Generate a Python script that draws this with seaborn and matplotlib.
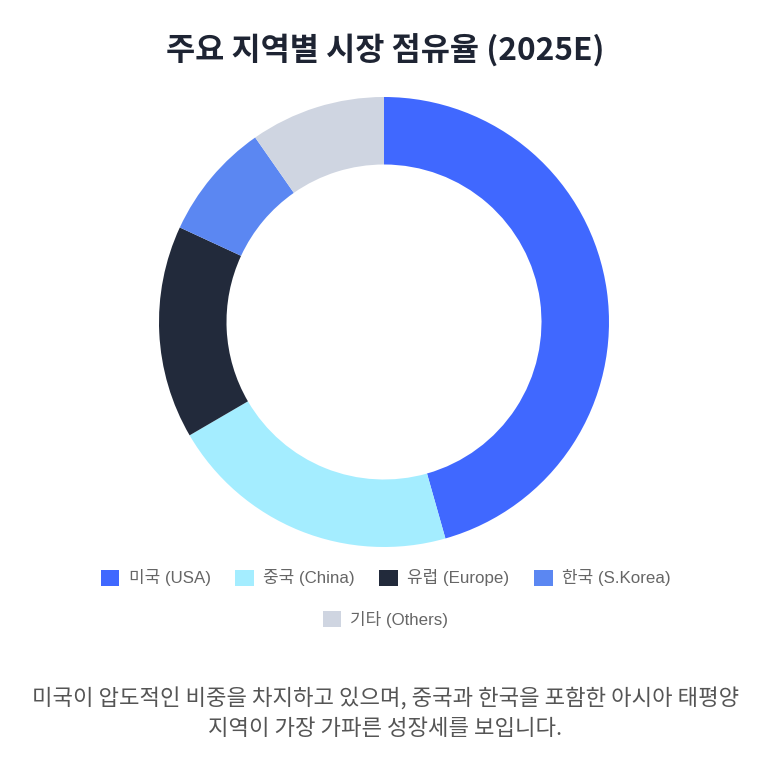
import matplotlib
matplotlib.use("Agg")
import matplotlib.pyplot as plt
import seaborn as sns

# ---- data ----
regions = ["미국 (USA)", "중국 (China)", "유럽 (Europe)", "한국 (S.Korea)", "기타 (Others)"]
shares = [45.6, 21.0, 15.3, 8.4, 9.7]
colors = ["#4068FF", "#A4EDFF", "#222A3B", "#5B87F2", "#CFD5E1"]
title = "주요 지역별 시장 점유율 (2025E)"
caption = "미국이 압도적인 비중을 차지하고 있으며, 중국과 한국을 포함한 아시아 태평양\n지역이 가장 가파른 성장세를 보입니다."

sns.set_theme(style="white")
plt.rcParams["font.family"] = ["Noto Sans CJK KR", "DejaVu Sans"]

W, H = 771, 759
fig = plt.figure(figsize=(W / 100, H / 100), dpi=100)
fig.patch.set_facecolor("white")

cx, cy, r = 384, 322, 225
ax = fig.add_axes([(cx - r) / W, (H - cy - r) / H, 2 * r / W, 2 * r / H])
palette = sns.color_palette(colors)
wedges, _ = ax.pie(shares, colors=palette, startangle=90, counterclock=False,
                   radius=1.0, wedgeprops=dict(width=0.30, linewidth=0))
ax.set_xlim(-1, 1)
ax.set_ylim(-1, 1)
ax.set_aspect("equal")
ax.axis("off")

fig.text(0.5, 1 - 51 / H, title, ha="center", va="center", fontsize=22.8,
         fontweight="bold", color="#1E2433")

lfam = ["Liberation Sans", "Noto Sans CJK KR"]
common = dict(frameon=False, handlelength=1.1, handleheight=1.1,
              handletextpad=0.55, columnspacing=1.45, borderpad=0, borderaxespad=0,
              prop=dict(family=lfam, size=12.2), labelcolor="#666666", loc="center")
leg1 = fig.legend(wedges[:4], regions[:4], ncol=4,
                  bbox_to_anchor=(0.5, 1 - 578 / H), **common)
leg2 = fig.legend(wedges[4:], regions[4:], ncol=1,
                  bbox_to_anchor=(0.5, 1 - 619 / H), **common)

fig.text(0.5, 1 - 714 / H, caption, ha="center", va="center", fontsize=16,
         color="#555555", linespacing=1.38)

fig.savefig("out.png", dpi=100, facecolor="white")
